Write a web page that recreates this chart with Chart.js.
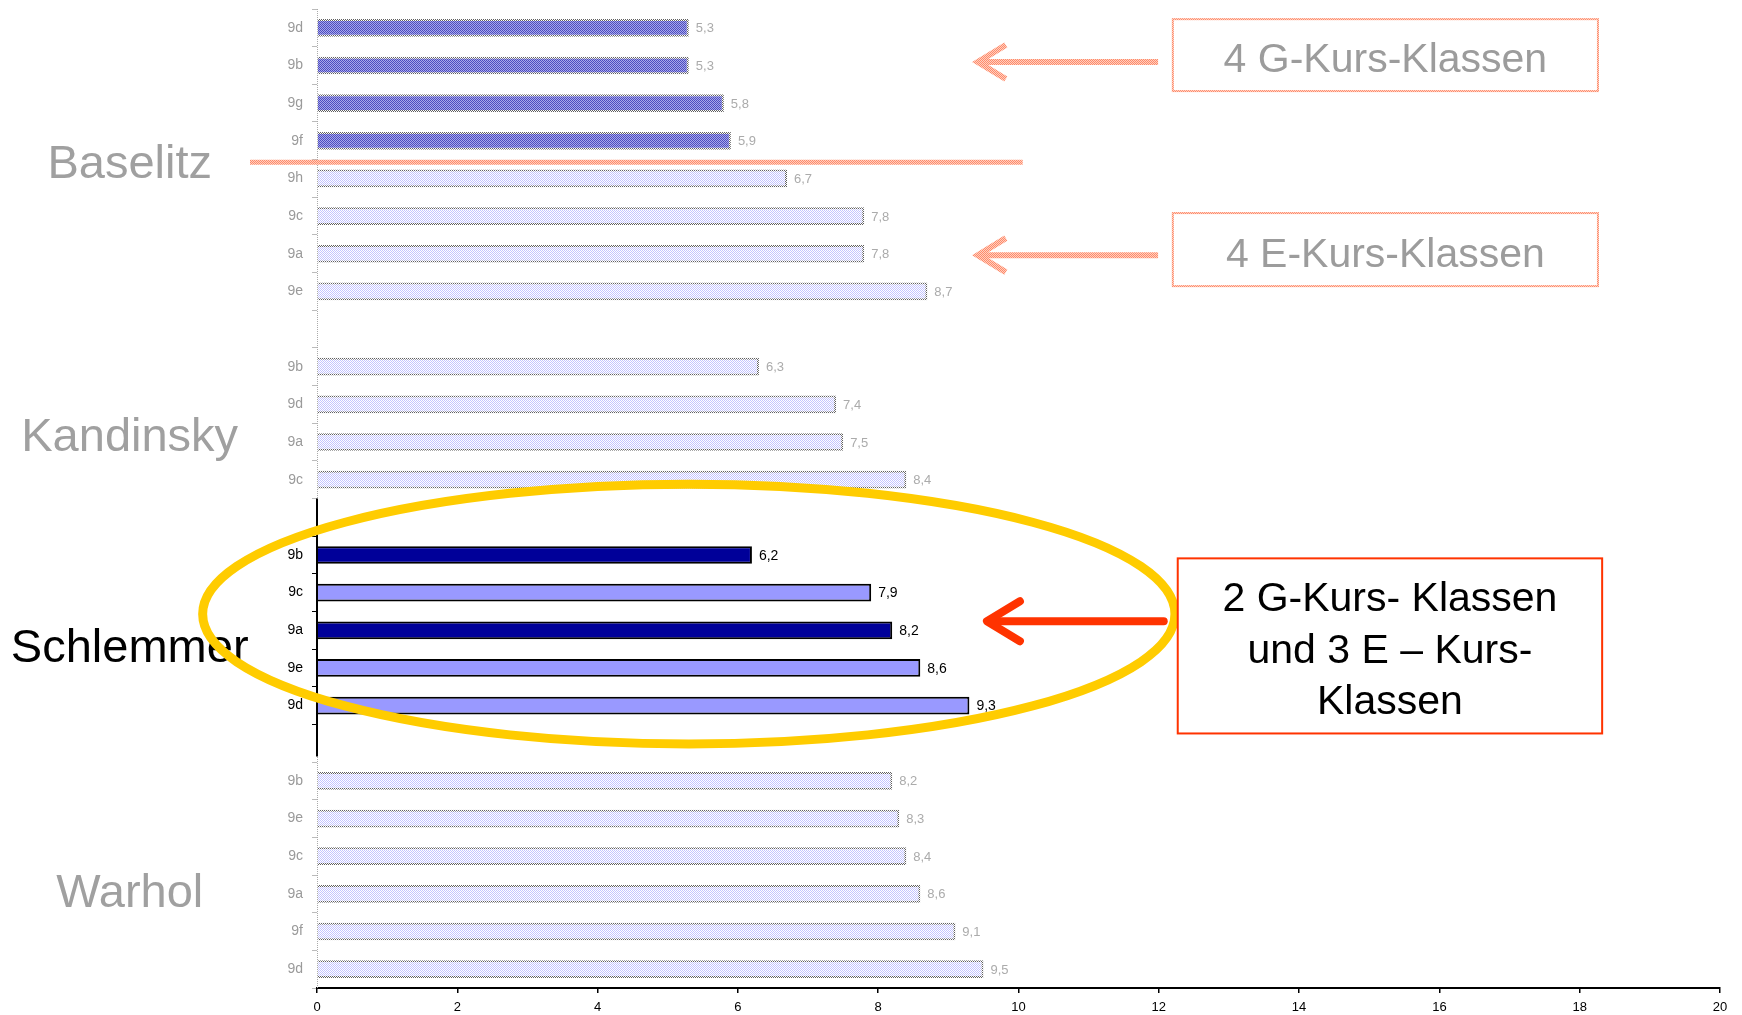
<!DOCTYPE html>
<html>
<head>
<meta charset="utf-8">
<script src="https://cdn.jsdelivr.net/npm/chart.js@4/dist/chart.umd.min.js"></script>
<style>
  html, body { margin: 0; padding: 0; background: #fff; }
  #wrap { position: relative; width: 1742px; height: 1015px; }
</style>
</head>
<body>
<div id="wrap"><canvas id="barChart"></canvas></div>
<script>
// groups (schools) and their classes, top to bottom
const groups = ['Baselitz', 'Kandinsky', 'Schlemmer', 'Warhol'];

const baselitzClasses = ['9d', '9b', '9g', '9f', '9h', '9c', '9a', '9e'];
const baselitzValues  = [5.3, 5.3, 5.8, 5.9, 6.7, 7.8, 7.8, 8.7];
const baselitzCourse  = ['G', 'G', 'G', 'G', 'E', 'E', 'E', 'E'];

const kandinskyClasses = ['9b', '9d', '9a', '9c'];
const kandinskyValues  = [6.3, 7.4, 7.5, 8.4];
const kandinskyCourse  = ['E', 'E', 'E', 'E'];

const schlemmerClasses = ['9b', '9c', '9a', '9e', '9d'];
const schlemmerValues  = [6.2, 7.9, 8.2, 8.6, 9.3];
const schlemmerCourse  = ['G', 'E', 'G', 'E', 'E'];

const warholClasses = ['9b', '9e', '9c', '9a', '9f', '9d'];
const warholValues  = [8.2, 8.3, 8.4, 8.6, 9.1, 9.5];
const warholCourse  = ['E', 'E', 'E', 'E', 'E', 'E'];

const xTicks = [0, 2, 4, 6, 8, 10, 12, 14, 16, 18, 20];

const highlighted = 'Schlemmer';

// build flat arrays with an empty row between groups
const groupData = [
  [baselitzClasses, baselitzValues, baselitzCourse],
  [kandinskyClasses, kandinskyValues, kandinskyCourse],
  [schlemmerClasses, schlemmerValues, schlemmerCourse],
  [warholClasses, warholValues, warholCourse]
];
const labels = [], values = [], course = [], owner = [];
const groupRange = {};
groupData.forEach((g, gi) => {
  if (gi > 0) { labels.push(''); values.push(null); course.push(null); owner.push(null); }
  const start = labels.length;
  g[0].forEach((c, i) => {
    labels.push(c); values.push(g[1][i]); course.push(g[2][i]); owner.push(groups[gi]);
  });
  groupRange[groups[gi]] = [start, labels.length - 1];
});

// dithered fills for the faded parts
function dither(base, dot) {
  const c = document.createElement('canvas');
  c.width = 2; c.height = 2;
  const g = c.getContext('2d');
  g.fillStyle = base; g.fillRect(0, 0, 2, 2);
  g.fillStyle = dot; g.fillRect(0, 0, 1, 1); g.fillRect(1, 1, 1, 1);
  return g.createPattern(c, 'repeat');
}
const fadedG = dither('#a8a8ea', '#4c4cc0');
const fadedE = dither('#ffffff', '#c4c4ff');
const fadedBorder = dither('#ffffff', '#606060');
const salmon = dither('#ffd0c0', '#ff8a6a');

function isHi(i) { return owner[i] === highlighted; }
function barFill(i) {
  if (isHi(i)) return course[i] === 'G' ? '#000099' : '#9999ff';
  return course[i] === 'G' ? fadedG : fadedE;
}

const font = '"Liberation Sans", Arial, sans-serif';

function fmt(v) { return v.toFixed(1).replace('.', ','); }

// helpers to place things in scale units
function pos(chart, v, idx) {
  const x = chart.scales.x, y = chart.scales.y;
  const y0 = y.getPixelForValue(0), step = y.getPixelForValue(1) - y0;
  return [x.getPixelForValue(v), y0 + idx * step];
}

function arrow(ctx, tail, tip, y, color, w, headLen, headHalf, cap) {
  ctx.save();
  ctx.strokeStyle = color;
  ctx.lineWidth = w;
  ctx.lineCap = cap;
  ctx.lineJoin = cap === 'round' ? 'round' : 'miter';
  ctx.beginPath();
  ctx.moveTo(tail, y); ctx.lineTo(tip + 3, y);
  ctx.stroke();
  ctx.beginPath();
  ctx.moveTo(tip + headLen, y - headHalf);
  ctx.lineTo(tip, y);
  ctx.lineTo(tip + headLen, y + headHalf);
  ctx.stroke();
  ctx.restore();
}

const valueLabels = {
  id: 'valueLabels',
  afterDatasetsDraw(chart) {
    const ctx = chart.ctx;
    const meta = chart.getDatasetMeta(0);
    ctx.save();
    ctx.textBaseline = 'middle';
    ctx.textAlign = 'left';
    meta.data.forEach((el, i) => {
      if (values[i] == null) return;
      ctx.fillStyle = isHi(i) ? '#000' : '#ababab';
      ctx.font = (isHi(i) ? '14px ' : '13px ') + font;
      ctx.fillText(fmt(values[i]), el.x + 7, el.y + 1);
    });
    ctx.restore();
  }
};

const yAxisLine = {
  id: 'yAxisLine',
  afterDatasetsDraw(chart) {
    const ctx = chart.ctx, a = chart.chartArea;
    const r = groupRange[highlighted];
    const top = pos(chart, 0, r[0] - 1.5)[1];
    const bot = pos(chart, 0, r[1] + 1.35)[1];
    ctx.save();
    ctx.strokeStyle = '#aaa';
    ctx.lineWidth = 1;
    ctx.setLineDash([1, 1]);
    ctx.beginPath();
    ctx.moveTo(a.left + 0.5, a.top); ctx.lineTo(a.left + 0.5, a.bottom);
    ctx.stroke();
    ctx.setLineDash([]);
    ctx.strokeStyle = '#000';
    ctx.lineWidth = 2;
    ctx.beginPath();
    ctx.moveTo(a.left, top); ctx.lineTo(a.left, bot);
    ctx.stroke();
    ctx.restore();
  }
};

const annotations = {
  id: 'annotations',
  afterDraw(chart) {
    const ctx = chart.ctx;
    ctx.save();

    // group names on the left
    const groupPos = { Baselitz: 3.55, Kandinsky: 10.8, Schlemmer: 16.4, Warhol: 22.9 };
    ctx.font = '47px ' + font;
    ctx.textAlign = 'center';
    ctx.textBaseline = 'middle';
    groups.forEach(g => {
      const p = pos(chart, -2.67, groupPos[g]);
      ctx.fillStyle = g === highlighted ? '#000' : '#a0a0a0';
      ctx.fillText(g, p[0], p[1] + 4);
    });

    // separator under the G classes of Baselitz
    const s1 = pos(chart, 10.06, 3.57);
    ctx.strokeStyle = salmon;
    ctx.lineWidth = 5;
    ctx.beginPath();
    ctx.moveTo(250, s1[1]); ctx.lineTo(s1[0], s1[1]);
    ctx.stroke();

    // faded boxes with arrows
    const boxes = [
      ['4 G-Kurs-Klassen', -0.23, 1.68, 0.88],
      ['4 E-Kurs-Klassen', 4.92, 6.86, 6.01]
    ];
    boxes.forEach(b => {
      const p1 = pos(chart, 12.2, b[1]), p2 = pos(chart, 18.26, b[2]);
      ctx.strokeStyle = salmon;
      ctx.lineWidth = 2;
      ctx.strokeRect(p1[0], p1[1], p2[0] - p1[0], p2[1] - p1[1]);
      ctx.fillStyle = '#9c9c9c';
      ctx.font = '41px ' + font;
      ctx.fillText(b[0], (p1[0] + p2[0]) / 2, (p1[1] + p2[1]) / 2 + 6);
      const t = pos(chart, 11.99, b[3]), h = pos(chart, 9.42, b[3]);
      arrow(ctx, t[0], h[0], t[1] + 1, salmon, 6, 28, 17, 'butt');
    });

    // yellow ellipse round the highlighted group
    const c = pos(chart, 5.3, 15.57);
    const rx = pos(chart, 5.3 + 6.93, 0)[0] - c[0];
    const ry = pos(chart, 0, 15.57 + 3.45)[1] - c[1];
    ctx.strokeStyle = '#ffcc00';
    ctx.lineWidth = 9;
    ctx.beginPath();
    ctx.ellipse(c[0], c[1], rx, ry, 0, 0, Math.PI * 2);
    ctx.stroke();

    // red box and arrow
    const r1 = pos(chart, 12.27, 14.09), r2 = pos(chart, 18.32, 18.74);
    ctx.fillStyle = '#fff';
    ctx.fillRect(r1[0], r1[1], r2[0] - r1[0], r2[1] - r1[1]);
    ctx.strokeStyle = '#ff3300';
    ctx.lineWidth = 2;
    ctx.strokeRect(r1[0], r1[1], r2[0] - r1[0], r2[1] - r1[1]);
    ctx.fillStyle = '#000';
    ctx.font = '41px ' + font;
    const lines = ['2 G-Kurs- Klassen', 'und 3 E \u2013 Kurs-', 'Klassen'];
    const ly = [15.1, 16.48, 17.83];
    lines.forEach((l, i) => {
      const p = pos(chart, 15.3, ly[i]);
      ctx.fillText(l, (r1[0] + r2[0]) / 2, p[1] + 3);
    });
    const at = pos(chart, 12.07, 15.76), ah = pos(chart, 9.55, 15.76);
    arrow(ctx, at[0], ah[0], at[1], '#ff3300', 8, 33, 20, 'round');

    ctx.restore();
  }
};

const ctx = document.getElementById('barChart').getContext('2d');

const chart = new Chart(ctx, {
  type: 'bar',
  data: {
    labels: labels,
    datasets: [{
      data: values,
      backgroundColor: c => barFill(c.dataIndex),
      borderColor: c => isHi(c.dataIndex) ? '#000' : fadedBorder,
      borderWidth: 2,
      barPercentage: 0.47,
      categoryPercentage: 1
    }]
  },
  options: {
    indexAxis: 'y',
    responsive: true,
    maintainAspectRatio: false,
    animation: false,
    layout: { padding: { left: 0, top: 9, right: 22, bottom: 0 } },
    plugins: {
      legend: { display: false },
      tooltip: { enabled: false },
      title: { display: false }
    },
    scales: {
      x: {
        min: 0,
        max: 20,
        afterBuildTicks: s => { s.ticks = xTicks.map(v => ({ value: v })); },
        afterFit: s => { s.height = 27; },
        border: { color: '#000', width: 2 },
        grid: { drawOnChartArea: false, color: '#000', tickLength: 5, lineWidth: 1.5 },
        ticks: { color: '#000', font: { size: 13, family: font }, padding: 7 }
      },
      y: {
        afterFit: s => { s.width = 317; s.paddingTop = 0; s.paddingBottom = 0; },
        border: { display: false },
        grid: {
          drawOnChartArea: false,
          tickLength: 5,
          color: c => (c.index >= groupRange[highlighted][0] && c.index <= groupRange[highlighted][1] + 1) ? '#000' : '#bbb'
        },
        ticks: {
          color: c => isHi(c.index) ? '#000' : '#9a9a9a',
          font: { size: 14, family: font },
          padding: 9
        }
      }
    }
  },
  plugins: [yAxisLine, valueLabels, annotations]
});
</script>
</body>
</html>
